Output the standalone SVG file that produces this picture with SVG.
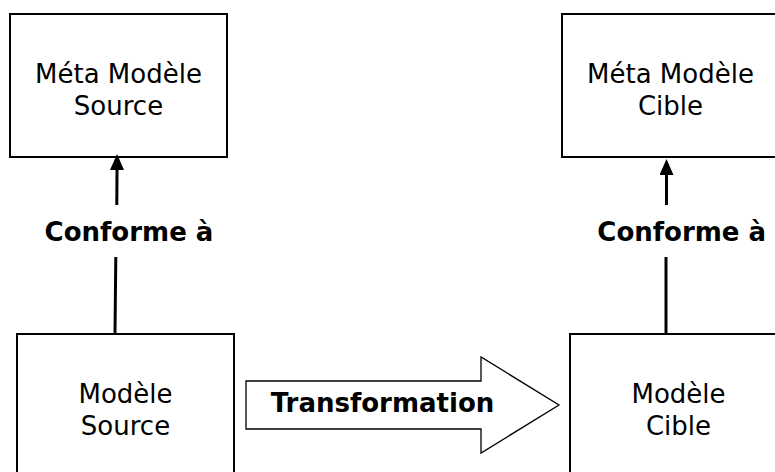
<svg xmlns="http://www.w3.org/2000/svg" width="775" height="472" viewBox="0 0 775 472">
  <style>
    .box { fill: #ffffff; stroke: #000000; stroke-width: 2; }
    .label { font-family: "DejaVu Sans", Verdana, sans-serif; font-size: 26px; fill: #000000; text-anchor: middle; }
    .bold { font-weight: bold; }
    .link { stroke: #000000; stroke-width: 3; fill: none; }
    .bigarrow { fill: #ffffff; stroke: #000000; stroke-width: 1.3; }
  </style>
  <defs>
    <marker id="head" viewBox="0 0 16 14" refX="0" refY="7" markerWidth="16" markerHeight="14" markerUnits="userSpaceOnUse" orient="auto">
      <path d="M0,0 L16,7 L0,14 z" fill="#000000"/>
    </marker>
  </defs>
  <rect width="775" height="472" fill="#ffffff"/>

  <!-- meta-models -->
  <g id="meta-source">
    <rect class="box" x="10" y="14" width="217" height="143"/>
    <text class="label" x="118.5" y="83">Méta Modèle</text>
    <text class="label" x="118.5" y="115">Source</text>
  </g>
  <g id="meta-cible">
    <rect class="box" x="562" y="14" width="217" height="143"/>
    <text class="label" x="670.5" y="83">Méta Modèle</text>
    <text class="label" x="670.5" y="115">Cible</text>
  </g>

  <!-- models -->
  <g id="modele-source">
    <rect class="box" x="17" y="334" width="217" height="160"/>
    <text class="label" x="125.5" y="403">Modèle</text>
    <text class="label" x="125.5" y="435">Source</text>
  </g>
  <g id="modele-cible">
    <rect class="box" x="570" y="334" width="217" height="160"/>
    <text class="label" x="678.5" y="403">Modèle</text>
    <text class="label" x="678.5" y="435">Cible</text>
  </g>

  <!-- conformity links and transformation arrow -->
  <g id="connectors">
    <line class="link" x1="116.8" y1="205" x2="117" y2="170" marker-end="url(#head)"/>
    <line class="link" x1="115" y1="334" x2="115.8" y2="257"/>
    <text class="label bold" x="129" y="241">Conforme à</text>

    <line class="link" x1="666.5" y1="205" x2="666.5" y2="175" marker-end="url(#head)"/>
    <line class="link" x1="666" y1="334" x2="666" y2="257"/>
    <text class="label bold" x="681.7" y="241">Conforme à</text>

    <path class="bigarrow" d="M246,381 L481,381 L481,357 L559,405 L481,453 L481,429 L246,429 Z"/>
    <text class="label bold" x="382.5" y="412">Transformation</text>
  </g>
</svg>
